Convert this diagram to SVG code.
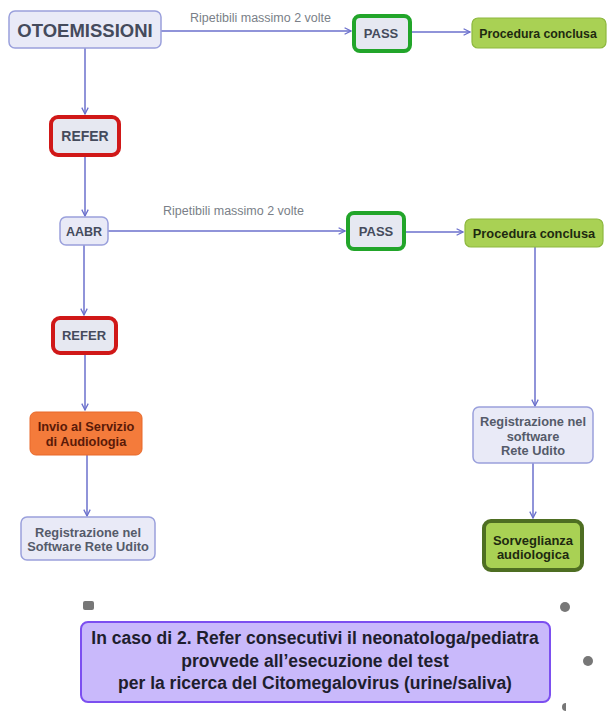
<svg xmlns="http://www.w3.org/2000/svg" width="608" height="715" viewBox="0 0 608 715">
<defs>
<marker id="arr" viewBox="0 0 10 10" refX="9" refY="5" markerWidth="8" markerHeight="8" markerUnits="userSpaceOnUse" orient="auto">
<path d="M1,1 L9,5 L1,9" fill="none" stroke="#6b70cc" stroke-width="1.6"/>
</marker>
</defs>
<style>
text{font-family:"Liberation Sans",Arial,sans-serif;font-weight:bold;text-anchor:middle;}
.n{fill:#e9eaf7;stroke:#9aa0dc;stroke-width:1.5;}
.t{fill:#454b5c;}
.refer{fill:#e6e8f1;stroke:#d01818;stroke-width:4;}
.pass{fill:#e6e8f1;stroke:#22a52a;stroke-width:4;}
.done{fill:#a9d154;stroke:#8db83e;stroke-width:1.2;}
.dt{fill:#1e2a10;}
.c{fill:none;stroke:#6b70cc;stroke-width:1.5;}
.lbl{font-weight:normal;fill:#7a7f88;font-size:12.5px;text-anchor:start;}
.s{fill:#555b6a;font-size:12.8px;}
</style>
<rect width="608" height="715" fill="#ffffff"/>
<g id="connectors">
<path class="c" d="M161,31 H351" marker-end="url(#arr)"/>
<path class="c" d="M410,32 H470" marker-end="url(#arr)"/>
<path class="c" d="M85,48 V114" marker-end="url(#arr)"/>
<path class="c" d="M85,156 V216" marker-end="url(#arr)"/>
<path class="c" d="M108,231 H345" marker-end="url(#arr)"/>
<path class="c" d="M405,232 H463" marker-end="url(#arr)"/>
<path class="c" d="M84,245 V315" marker-end="url(#arr)"/>
<path class="c" d="M85,355 V410" marker-end="url(#arr)"/>
<path class="c" d="M87,455 V516" marker-end="url(#arr)"/>
<path class="c" d="M535,247 V406" marker-end="url(#arr)"/>
<path class="c" d="M533,463 V518" marker-end="url(#arr)"/>
<text class="lbl" x="190" y="22">Ripetibili massimo 2 volte</text>
<text class="lbl" x="163" y="215">Ripetibili massimo 2 volte</text>
</g>
<g id="otoemissioni">
<rect class="n" x="9" y="11" width="152" height="37" rx="6"/>
<text class="t" x="85" y="36.5" font-size="18.5">OTOEMISSIONI</text>
</g>
<g id="pass1">
<rect class="pass" x="354" y="16" width="56" height="35" rx="6"/>
<text class="t" x="381" y="38" font-size="13" fill="#5a6070">PASS</text>
</g>
<g id="procedura1">
<rect class="done" x="472" y="18" width="134" height="30" rx="6"/>
<text class="dt" x="538" y="37.5" font-size="12.3">Procedura conclusa</text>
</g>
<g id="refer1">
<rect class="refer" x="51" y="117" width="68" height="38" rx="7"/>
<text class="t" x="85" y="141" font-size="14">REFER</text>
</g>
<g id="aabr">
<rect class="n" x="60" y="217" width="48" height="28" rx="6"/>
<text class="t" x="84" y="235.5" font-size="12.5">AABR</text>
</g>
<g id="pass2">
<rect class="pass" x="348" y="213" width="56" height="36" rx="6"/>
<text class="t" x="376" y="236" font-size="13" fill="#5a6070">PASS</text>
</g>
<g id="procedura2">
<rect class="done" x="465" y="219" width="138" height="28" rx="6"/>
<text class="dt" x="534" y="237.5" font-size="12.8">Procedura conclusa</text>
</g>
<g id="refer2">
<rect class="refer" x="53" y="318" width="63" height="35" rx="7"/>
<text class="t" x="84" y="340" font-size="13">REFER</text>
</g>
<g id="invio">
<rect x="30" y="412" width="112" height="43" rx="6" fill="#f47b3b" stroke="#e8692a" stroke-width="1"/>
<text x="86" y="431" font-size="12.8" fill="#5a1a08">Invio al Servizio</text>
<text x="86" y="446" font-size="12.8" fill="#5a1a08">di Audiologia</text>
</g>
<g id="registrazione1">
<rect class="n" x="21" y="517" width="134" height="43" rx="6"/>
<text class="t s" x="88" y="537">Registrazione nel</text>
<text class="t s" x="88" y="551">Software Rete Udito</text>
</g>
<g id="registrazione2">
<rect class="n" x="473" y="407" width="120" height="56" rx="6"/>
<text class="t s" x="533" y="426">Registrazione nel</text>
<text class="t s" x="533" y="440.5">software</text>
<text class="t s" x="533" y="455">Rete Udito</text>
</g>
<g id="sorveglianza">
<rect x="484" y="521" width="98" height="49" rx="7" fill="#a9d154" stroke="#4e6e22" stroke-width="4"/>
<text class="dt" x="533" y="545" font-size="13">Sorveglianza</text>
<text class="dt" x="533" y="559" font-size="13">audiologica</text>
</g>
<g id="nota">
<rect x="81" y="622" width="469" height="80" rx="7" fill="#c9b9fb" stroke="#7c4ff0" stroke-width="2"/>
<text x="315" y="644" font-size="17.5" fill="#1e1e2e">In caso di 2. Refer consecutivi il neonatologa/pediatra</text>
<text x="315" y="666.5" font-size="17.5" fill="#1e1e2e">provvede all’esecuzione del test</text>
<text x="315" y="689" font-size="17.5" fill="#1e1e2e">per la ricerca del Citomegalovirus (urine/saliva)</text>
</g>
<g id="ui-icons" fill="#777">
<rect x="83" y="601" width="11" height="9" rx="2"/>
<circle cx="565" cy="607" r="5"/>
<circle cx="588" cy="661" r="5"/>
<path d="M566,703 A4,4 0 0 0 566,711 Z"/>
</g>
</svg>
